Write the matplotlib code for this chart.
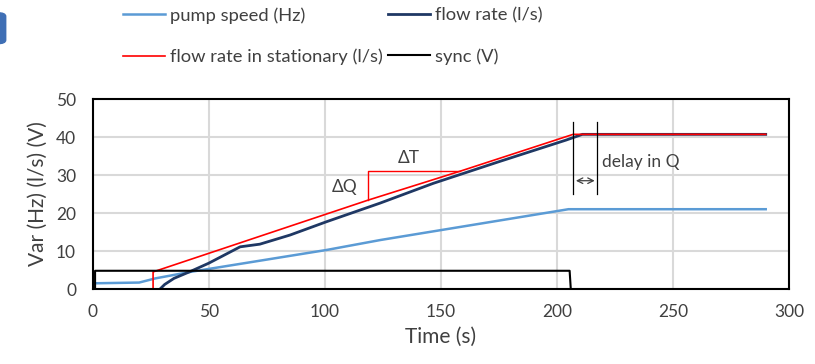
import matplotlib.pyplot as plt
from matplotlib.patches import FancyBboxPatch

plt.rcParams['font.family'] = ['Lato', 'DejaVu Sans']

# pump speed (Hz)
pump_t = [0, 20, 27, 42, 101, 124, 205, 290]
pump_v = [1.5, 1.7, 2.8, 4.5, 10.3, 12.9, 21.0, 21.0]

# flow rate (l/s)
flow_t = [29, 31, 35, 42, 50, 63.5, 72, 85, 100.7, 123.8, 146.7, 175, 204, 211, 290]
flow_v = [0, 1.2, 2.8, 4.6, 6.8, 11.1, 11.8, 14.2, 17.7, 22.6, 27.8, 33.5, 39.2, 40.7, 40.7]

# flow rate in stationary (l/s)
stat_t = [0, 26, 26, 118.7, 158.3, 207, 290]
stat_v = [0, 0, 4.5, 23.4, 31.0, 40.7, 40.7]

# sync (V)
sync_t = [1, 1, 205.5, 206]
sync_v = [0, 4.8, 4.8, 0]

grey = '#404040'

fig = plt.figure(figsize=(8.15, 3.64), dpi=100)
ax = fig.add_axes([0.1138, 0.206, 0.8542, 0.522])

l_pump, = ax.plot(pump_t, pump_v, color='#5B9BD5', lw=1.8)
l_flow, = ax.plot(flow_t, flow_v, color='#1F3864', lw=2.0)
l_stat, = ax.plot(stat_t, stat_v, color='#FF0000', lw=1.2)
l_sync, = ax.plot(sync_t, sync_v, color='black', lw=1.5)

# delta Q / delta T bracket
ax.plot([118.7, 118.7, 158.3], [23.4, 31.0, 31.0], color='#FF0000', lw=1.0)
ax.text(108.5, 26.8, 'ΔQ', fontsize=12.5, color=grey, ha='center', va='center')
ax.text(136, 34.5, 'ΔT', fontsize=12.5, color=grey, ha='center', va='center')

# delay marker
ax.plot([207, 207], [25, 44], color='black', lw=0.9)
ax.plot([217.5, 217.5], [25, 44], color='black', lw=0.9)
ax.annotate('', xy=(207, 28.5), xytext=(217.5, 28.5),
            arrowprops=dict(arrowstyle='<->', color=grey, lw=0.9))
ax.text(219.5, 33.4, 'delay in Q', fontsize=12.5, color=grey, ha='left', va='center')

ax.set_xlim(0, 300)
ax.set_ylim(0, 50)
ax.set_xticks(range(0, 301, 50))
ax.set_yticks(range(0, 51, 10))
ax.grid(True, color='#d9d9d9', lw=1.5)
ax.set_axisbelow(True)
ax.tick_params(length=0, labelsize=12.5, labelcolor=grey)
ax.tick_params(axis='x', pad=11)
ax.tick_params(axis='y', pad=12)
for s in ax.spines.values():
    s.set_linewidth(1.5)
    s.set_color('black')

ax.set_xlabel('Time (s)', fontsize=15, color=grey, labelpad=5)
ax.set_ylabel('Var (Hz) (l/s) (V)', fontsize=15, color=grey, labelpad=6)

leg_kw = dict(loc='upper left', frameon=False, fontsize=13.2, labelcolor=grey,
              handlelength=2.3, handletextpad=0.25, borderaxespad=0, borderpad=0,
              labelspacing=1.35)
leg1 = fig.legend([l_pump, l_stat], ['pump speed (Hz)', 'flow rate in stationary (l/s)'],
                  bbox_to_anchor=(123 / 815, 0.98), **leg_kw)
leg2 = fig.legend([l_flow, l_sync], ['flow rate (l/s)', 'sync (V)'],
                  bbox_to_anchor=(388 / 815, 0.98), **leg_kw)

# clipped panel marker in the top-left corner
fig.patches.append(FancyBboxPatch((-0.02, 0.88), 0.027, 0.085, boxstyle='round,pad=0,rounding_size=0.01',
                                  transform=fig.transFigure, color='#3F6FB5', figure=fig))

fig.savefig('out.png', dpi=100)
